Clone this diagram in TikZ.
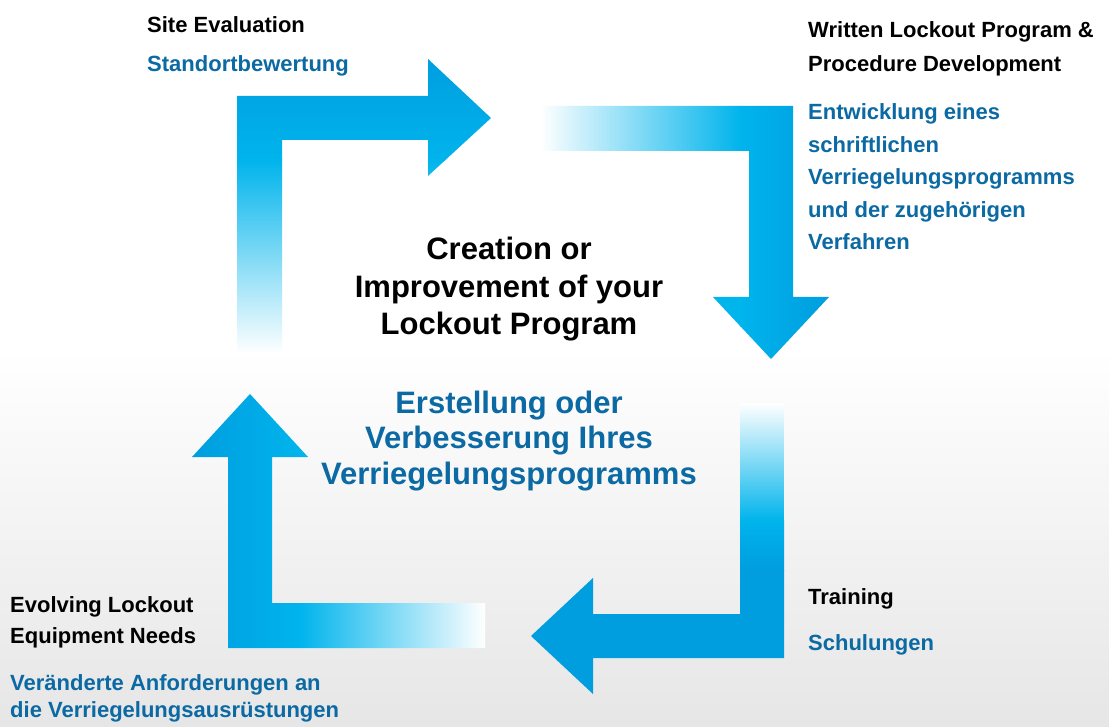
\documentclass[tikz,border=0pt]{standalone}
\usepackage{fontspec}
\setmainfont{Liberation Sans}
\definecolor{bleufonce}{HTML}{009DDF}
\definecolor{bleuclair}{HTML}{00B4EC}
\definecolor{bleutexte}{HTML}{0B69A3}
\definecolor{fondgris}{HTML}{E6E6E6}
\begin{document}
\begin{tikzpicture}[x=1pt,y=-1pt]
		% Styles
		\tikzstyle{titre}=[anchor=base west,inner sep=0pt,align=left,font=\bfseries\fontsize{22}{34}\selectfont,text=black]
		\tikzstyle{soustitre}=[titre,font=\bfseries\fontsize{22}{32.5}\selectfont,text=bleutexte]
		\tikzstyle{centre}=[anchor=base,inner sep=0pt,align=center,font=\bfseries\fontsize{31}{37.5}\selectfont,text=black]
		\tikzstyle{souscentre}=[centre,font=\bfseries\fontsize{31}{35.5}\selectfont,text=bleutexte]
		% Fond
		\useasboundingbox (0,0) rectangle (1109,727);
		\fill[white] (0,0) rectangle (1109,350);
		\shade[top color=white,bottom color=fondgris] (0,349) rectangle (1109,727);
		
		% Fleche 1 : vers la droite
		\begin{scope}
			\clip (237,352) -- (237,96) -- (428,96) -- (428,59) -- (491,118) -- (428,176) -- (428,140) -- (282,140) -- (282,352) -- cycle;
			\shade[top color=bleufonce,bottom color=bleuclair] (230,55) rectangle (495,160.5);
			\shade[top color=bleuclair,bottom color=white] (230,160) rectangle (495,353);
		\end{scope}
		% Fleche 2 : vers le bas
		\begin{scope}
			\clip (540,106) -- (793,106) -- (793,297) -- (829,297) -- (771,359) -- (713,297) -- (749,297) -- (749,151) -- (540,151) -- cycle;
			\shade[left color=white,right color=bleuclair] (540,100) rectangle (740.5,155);
			\fill[bleuclair] (705,160) rectangle (740.5,362);
			\shade[left color=bleuclair,right color=bleufonce] (740,100) rectangle (830,362);
		\end{scope}
		% Fleche 3 : vers la gauche
		\begin{scope}
			\clip (784,403) -- (784,658) -- (593,658) -- (593,694) -- (531,636) -- (593,578) -- (593,614) -- (740,614) -- (740,403) -- cycle;
			\shade[top color=white,bottom color=bleuclair] (735,403) rectangle (790,520.5);
			\shade[top color=bleuclair,bottom color=bleufonce] (735,520) rectangle (790,570.5);
			\fill[bleufonce] (528,570) rectangle (790,697);
		\end{scope}
		% Fleche 4 : vers le haut
		\begin{scope}
			\clip (485,648) -- (228,648) -- (228,457) -- (192,457) -- (250,394) -- (308,457) -- (272,457) -- (272,603) -- (485,603) -- cycle;
			\shade[left color=bleufonce,right color=bleuclair] (190,390) rectangle (300.5,650);
			\fill[bleuclair] (300,390) rectangle (312,600);
			\shade[left color=bleuclair,right color=white] (300,600) rectangle (485,650);
		\end{scope}
		
		% Noeuds (ancre : ligne de base de la derniere ligne)
		\node[titre] (site) at (147,33) {Site Evaluation};
		\node[soustitre] (standort) at (147,72) {Standortbewertung};
		\node[titre] (written) at (808,72) {Written Lockout Program \&\\Procedure Development};
		\node[soustitre] (entwicklung) at (808,250) {Entwicklung eines\\schriftlichen\\Verriegelungsprogramms\\und der zugehörigen\\Verfahren};
		\node[centre] (creation) at (509,335) {Creation or\\Improvement of your\\Lockout Program};
		\node[souscentre] (erstellung) at (509,484) {Erstellung oder\\Verbesserung Ihres\\Verriegelungsprogramms};
		\node[titre] (training) at (808,604) {Training};
		\node[soustitre] (schulungen) at (808,650) {Schulungen};
		\node[titre,font=\bfseries\fontsize{22}{31}\selectfont] (evolving) at (10,643) {Evolving Lockout\\Equipment Needs};
		\node[soustitre,font=\bfseries\fontsize{22}{27}\selectfont] (veraendert) at (10,717) {Veränderte Anforderungen an\\die Verriegelungsausrüstungen};
		
\end{tikzpicture}
\end{document}
